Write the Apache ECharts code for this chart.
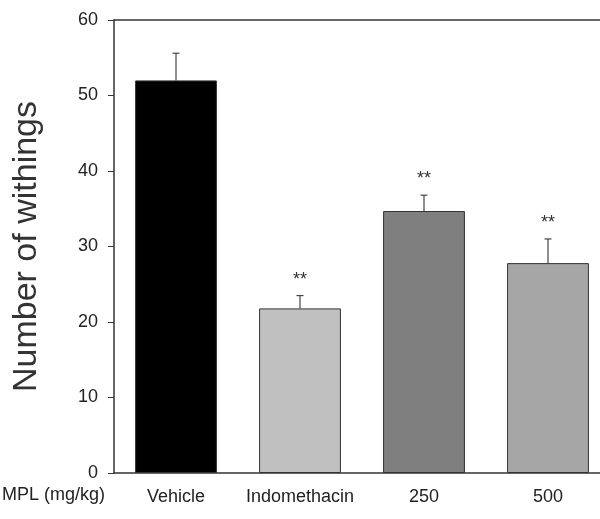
<!DOCTYPE html>
<html>
<head>
<meta charset="utf-8">
<script src="https://cdn.jsdelivr.net/npm/echarts@6/dist/echarts.min.js"></script>
<style>
  html, body { margin: 0; padding: 0; background: #fff; }
  #chart { width: 600px; height: 519px; }
</style>
</head>
<body>
<div id="chart"></div>
<script>
const categories = ['Vehicle', 'Indomethacin', '250', '500'];
const means = [52.0, 21.8, 34.7, 27.8];
const errorTops = [55.6, 23.5, 36.8, 31.0];
const stars = ['', '**', '**', '**'];
const barColors = ['#000000', '#c0c0c0', '#7f7f7f', '#a6a6a6'];
const yTicks = { min: 0, max: 60, interval: 10 };

const font = 'Arial, "Liberation Sans", sans-serif';
const chart = echarts.init(document.getElementById('chart'));

chart.setOption({
  animation: false,
  grid: { left: 114, top: 20, height: 453, width: 496, outerBoundsMode: 'none', containLabel: false },
  xAxis: [
    {
      type: 'category',
      data: categories,
      axisLine: { lineStyle: { color: '#333', width: 1.5 } },
      axisTick: { inside: true, length: 5, lineStyle: { color: '#333' } },
      axisLabel: { interval: 0, color: '#222', fontSize: 18, fontFamily: font, margin: 15 }
    },
    {
      type: 'category',
      position: 'top',
      data: categories,
      axisLine: { lineStyle: { color: '#333', width: 1.5 } },
      axisTick: { show: false },
      axisLabel: { show: false }
    }
  ],
  yAxis: {
    type: 'value',
    min: yTicks.min,
    max: yTicks.max,
    interval: yTicks.interval,
    name: 'Number of withings',
    nameLocation: 'middle',
    nameGap: 70,
    nameTextStyle: { color: '#333', fontSize: 34, fontFamily: font },
    axisLine: { show: true, lineStyle: { color: '#333', width: 1.5 } },
    axisTick: { show: true, length: 6, lineStyle: { color: '#333' } },
    axisLabel: { color: '#222', fontSize: 18, fontFamily: font, margin: 16 },
    splitLine: { show: false }
  },
  graphic: [
    {
      type: 'text',
      left: 2,
      top: 486,
      style: { text: 'MPL (mg/kg)', fill: '#222', font: '18px ' + font }
    }
  ],
  series: [
    {
      type: 'bar',
      barWidth: '66%',
      data: means.map((v, i) => ({
        value: v,
        itemStyle: { color: barColors[i], borderColor: '#333', borderWidth: 1 }
      }))
    },
    {
      type: 'custom',
      data: means.map((v, i) => [i, v, errorTops[i]]),
      renderItem: function (params, api) {
        const base = api.coord([api.value(0), api.value(1)]);
        const top = api.coord([api.value(0), api.value(2)]);
        const idx = params.dataIndex;
        const children = [
          { type: 'line', shape: { x1: base[0], y1: base[1], x2: top[0], y2: top[1] }, style: { stroke: '#444', lineWidth: 1.2 } },
          { type: 'line', shape: { x1: top[0] - 3.5, y1: top[1], x2: top[0] + 3.5, y2: top[1] }, style: { stroke: '#444', lineWidth: 1.2 } }
        ];
        if (stars[idx]) {
          children.push({
            type: 'text',
            style: { text: stars[idx], x: top[0], y: top[1] - 16, align: 'center', verticalAlign: 'middle', fill: '#333', font: '18px ' + font }
          });
        }
        return { type: 'group', children: children };
      },
      z: 5
    }
  ]
});
</script>
</body>
</html>
